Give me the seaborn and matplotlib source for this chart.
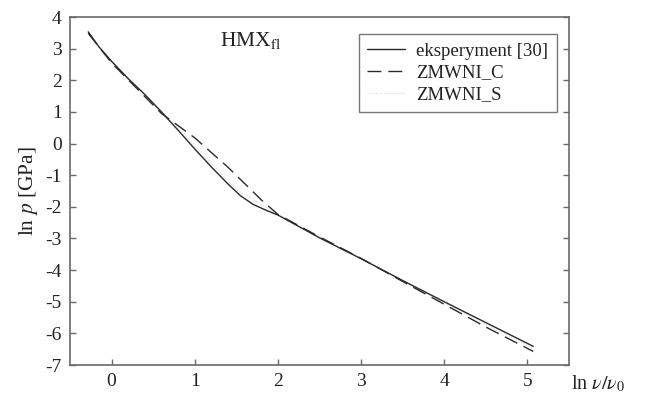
import matplotlib
matplotlib.use("Agg")
import matplotlib.pyplot as plt
import seaborn as sns
import pandas as pd

# --- data ---
exp_x = [-0.28, -0.15, 0.0, 0.2, 0.4, 0.6, 0.8, 1.0, 1.2, 1.4, 1.55, 1.7, 1.85, 2.0, 2.5, 3.0, 3.5, 4.0, 4.5, 5.07]
exp_y = [3.53, 3.05, 2.6, 2.05, 1.55, 1.0, 0.42, -0.17, -0.74, -1.28, -1.65, -1.92, -2.1, -2.26, -2.98, -3.64, -4.33, -5.0, -5.66, -6.41]

zc_x = [-0.28, 0.0, 0.3, 0.6, 1.0, 1.4, 1.8, 2.0, 2.5, 3.0, 3.5, 4.0, 4.5, 5.07]
zc_y = [3.48, 2.55, 1.75, 0.95, 0.18, -0.75, -1.78, -2.24, -2.95, -3.63, -4.36, -5.08, -5.8, -6.57]

zs_x = [-0.28, 0.0, 0.5, 1.0, 1.5, 2.0, 2.5, 3.0, 3.5, 4.0, 4.5, 5.07]
zs_y = [3.5, 2.58, 1.3, -0.05, -1.45, -2.25, -2.97, -3.64, -4.34, -5.03, -5.72, -6.48]

labels = ["eksperyment [30]", "ZMWNI_C", "ZMWNI_S"]
x_ticks = [0, 1, 2, 3, 4, 5]
y_ticks = [-7, -6, -5, -4, -3, -2, -1, 0, 1, 2, 3, 4]

sns.set_theme(style="white")
plt.rcParams["font.family"] = ["Liberation Serif", "DejaVu Serif"]
plt.rcParams["mathtext.fontset"] = "stix"

fig = plt.figure(figsize=(6.45, 3.94), dpi=100)
ax = fig.add_axes([70 / 645, 1 - 365 / 394, 499 / 645, 348 / 394])

df_s = pd.DataFrame({"x": zs_x, "y": zs_y})
df_e = pd.DataFrame({"x": exp_x, "y": exp_y})
df_c = pd.DataFrame({"x": zc_x, "y": zc_y})

line_col = "#2a2a2a"
sns.lineplot(data=df_s, x="x", y="y", ax=ax, color="#d8d8d8", lw=0.8,
             linestyle=(0, (1, 1.5)), sort=False, label=labels[2])
sns.lineplot(data=df_e, x="x", y="y", ax=ax, color=line_col, lw=1.0,
             sort=False, label=labels[0])
sns.lineplot(data=df_c, x="x", y="y", ax=ax, color=line_col, lw=1.0,
             linestyle=(0, (10, 5)), sort=False, label=labels[1])

ax.set_xlim(-0.5, 5.5)
ax.set_ylim(-7, 4)
ax.set_xticks(x_ticks)
ax.set_yticks(y_ticks)
ax.set_xticklabels([str(v) for v in x_ticks])
ax.set_yticklabels([str(v) for v in y_ticks])

for s in ax.spines.values():
    s.set_visible(True)
    s.set_color("#6a6a6a")
    s.set_linewidth(1.2)

ax.tick_params(axis="both", direction="in", length=4, width=1.0, color="#6a6a6a",
               labelsize=14, labelcolor="#222222", pad=6)
ax.tick_params(axis="y", right=True, left=True, labelright=False)
ax.tick_params(axis="x", bottom=True, top=False)

ax.set_xlabel("")
ax.set_ylabel(r"ln $p$ [GPa]", fontsize=15.5, color="#222222", labelpad=4)
fig.text(571 / 645, 1 - 384 / 394, r"ln $\nu/\nu_0$", fontsize=14.5, color="#222222",
         ha="left", va="center")

ax.text(1.30, 3.27, r"HMX$_{\rm fl}$", fontsize=15.5, color="#222222",
        ha="left", va="center")

h, l = ax.get_legend_handles_labels()
order = [l.index(n) for n in labels]
leg = ax.legend([h[i] for i in order], [l[i] for i in order],
                loc="upper left", bbox_to_anchor=((359 - 70) / 499, (365 - 34) / 348),
                fontsize=13.5, frameon=True, fancybox=False, handlelength=2.0,
                handletextpad=0.6, borderpad=0.45, labelspacing=0.25, borderaxespad=0)
leg.get_frame().set_edgecolor("#555555")
leg.get_frame().set_linewidth(1.0)
for t in leg.get_texts():
    t.set_color("#222222")

fig.savefig("out.png", dpi=100)
